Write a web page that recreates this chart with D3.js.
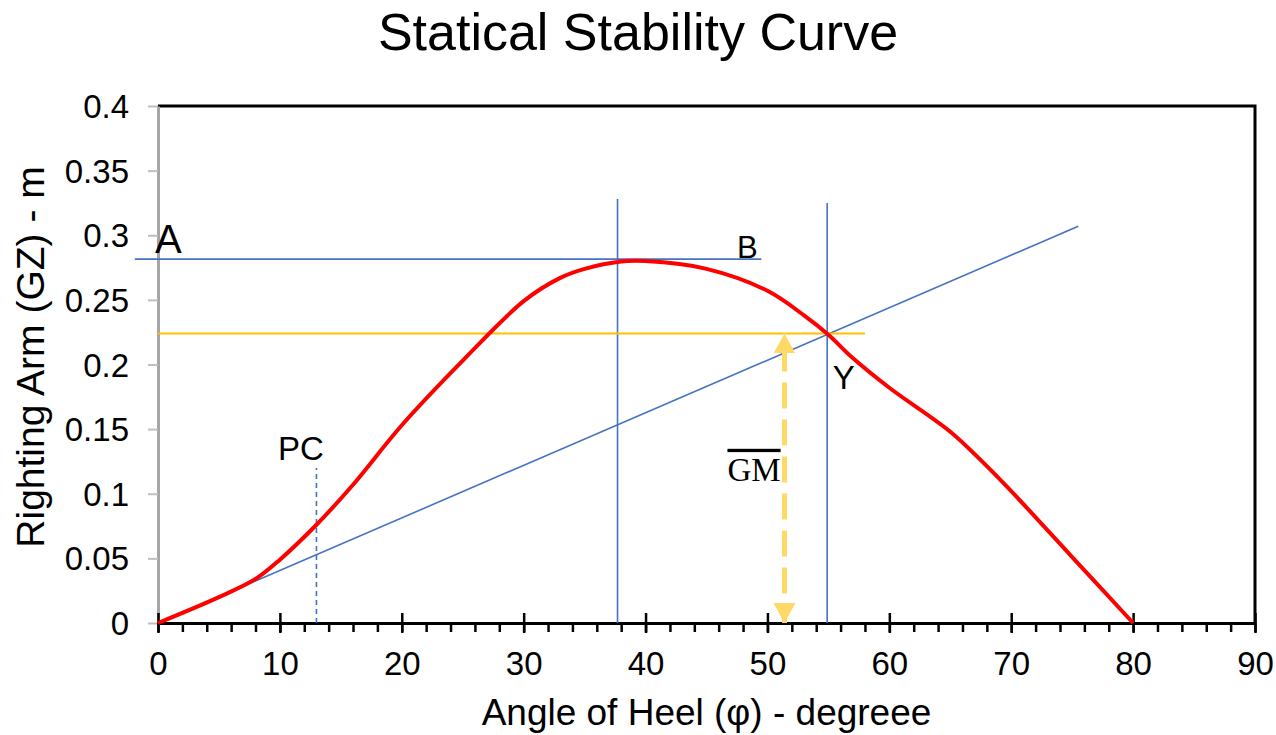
<!DOCTYPE html>
<html>
<head>
<meta charset="utf-8">
<script src="https://cdnjs.cloudflare.com/ajax/libs/d3/7.8.5/d3.min.js"></script>
<style>
  body { margin: 0; background: #fff; }
  svg { display: block; font-family: "Liberation Sans", Arial, sans-serif; }
</style>
</head>
<body>
<div></div>
<script>
// GZ curve
const angles = [0, 5, 8, 10, 13, 16, 20, 25, 30, 33, 35, 38, 40, 45, 50, 53, 55, 57, 60, 65, 67.5, 70, 75, 80];
const gz = [0, 0.020, 0.034, 0.049, 0.076, 0.107, 0.153, 0.203, 0.249, 0.267, 0.274, 0.2797, 0.280, 0.274, 0.257, 0.238, 0.223, 0.205, 0.182, 0.148, 0.126, 0.102, 0.051, 0];

const xTicks = [0, 10, 20, 30, 40, 50, 60, 70, 80, 90];
const xMinor = d3.range(0, 91, 2);
const yTicks = [0, 0.05, 0.1, 0.15, 0.2, 0.25, 0.3, 0.35, 0.4];

// construction lines
const tangentLine = [[0, 0], [75.5, 0.307]];
const maxLine = [[-1.9, 0.2815], [49.5, 0.2815]];
const maxVert = [[37.7, 0], [37.7, 0.328]];
const yVert = [[54.9, 0], [54.9, 0.325]];
const gmLevel = [[0, 0.224], [58, 0.224]];
const pcLine = [[13, 0], [13, 0.12]];
const gmArrow = [[51.4, 0.224], [51.4, 0]];

const labels = [
  {text: 'A', x: -0.25, y: 0.2866, size: 40, anchor: 'start'},
  {text: 'B', x: 47.5, y: 0.2822, size: 31, anchor: 'start'},
  {text: 'Y', x: 55.35, y: 0.1808, size: 33, anchor: 'start'},
  {text: 'PC', x: 11.73, y: 0.126, size: 33, anchor: 'middle'}
];

const width = 1276, height = 735;
const x = d3.scaleLinear().domain([0, 90]).range([158, 1255]);
const y = d3.scaleLinear().domain([0, 0.4]).range([623, 106]);

const svg = d3.select('body').select('div')
  .append('svg')
  .attr('width', width)
  .attr('height', height);

const defs = svg.append('defs');
defs.append('marker')
  .attr('id', 'head')
  .attr('markerUnits', 'userSpaceOnUse')
  .attr('viewBox', '0 0 20 22')
  .attr('refX', 20).attr('refY', 11)
  .attr('markerWidth', 20).attr('markerHeight', 22)
  .attr('orient', 'auto-start-reverse')
  .append('path')
  .attr('d', 'M0,0 L20,11 L0,22 Z')
  .attr('fill', '#FFD966');

const line = d3.line().x(d => x(d[0])).y(d => y(d[1]));

// frame (top and right)
svg.append('path')
  .attr('d', line([[0, 0.4], [90, 0.4], [90, 0]]))
  .attr('fill', 'none')
  .attr('stroke', '#000')
  .attr('stroke-width', 3);

// y axis
const yAxis = svg.append('g')
  .attr('transform', `translate(${x(0)},0)`)
  .call(d3.axisLeft(y).tickValues(yTicks).tickSize(10).tickSizeOuter(0)
    .tickFormat(d => String(+d.toFixed(2))));
yAxis.select('.domain').attr('stroke', '#a6a6a6').attr('stroke-width', 3);
yAxis.selectAll('.tick line').attr('stroke', '#bfbfbf').attr('stroke-width', 2);
yAxis.selectAll('.tick text')
  .attr('x', -29)
  .attr('dy', '0.35em')
  .style('font-size', '33px')
  .style('font-family', '"Liberation Sans", Arial, sans-serif')
  .attr('fill', '#000');

// x axis, minor then major ticks
const xMinorAxis = svg.append('g')
  .attr('transform', `translate(0,${y(0)})`)
  .call(d3.axisBottom(x).tickValues(xMinor).tickSize(9).tickSizeOuter(0).tickFormat(''));
xMinorAxis.select('.domain').remove();
xMinorAxis.selectAll('.tick line').attr('stroke', '#000').attr('stroke-width', 2.5);

const xAxis = svg.append('g')
  .attr('transform', `translate(0,${y(0)})`)
  .call(d3.axisBottom(x).tickValues(xTicks).tickSize(10).tickSizeOuter(0));
xAxis.select('.domain').attr('stroke', '#000').attr('stroke-width', 3);
xAxis.selectAll('.tick line').attr('y1', -10).attr('y2', 10).attr('stroke', '#000').attr('stroke-width', 2.5);
xAxis.selectAll('.tick text')
  .attr('y', 29)
  .style('font-size', '33px')
  .style('font-family', '"Liberation Sans", Arial, sans-serif')
  .attr('fill', '#000');

// construction lines
const blue = '#4472C4';
[tangentLine, maxLine, maxVert, yVert].forEach(l => {
  svg.append('path')
    .attr('d', line(l))
    .attr('fill', 'none')
    .attr('stroke', blue)
    .attr('stroke-width', 1.6);
});

svg.append('path')
  .attr('d', line(pcLine))
  .attr('fill', 'none')
  .attr('stroke', blue)
  .attr('stroke-width', 1.6)
  .attr('stroke-dasharray', '5,4');

svg.append('path')
  .attr('d', line(gmLevel))
  .attr('fill', 'none')
  .attr('stroke', '#FFC000')
  .attr('stroke-width', 2.2);

// GZ curve
svg.append('path')
  .datum(angles.map((a, i) => [a, gz[i]]))
  .attr('d', d3.line().x(d => x(d[0])).y(d => y(d[1])).curve(d3.curveCatmullRom.alpha(0.5)))
  .attr('fill', 'none')
  .attr('stroke', '#FF0000')
  .attr('stroke-width', 4);

// GM arrow
svg.append('path')
  .attr('d', line(gmArrow))
  .attr('fill', 'none')
  .attr('stroke', '#FFD966')
  .attr('stroke-width', 5)
  .attr('stroke-dasharray', '26,11')
  .attr('stroke-dashoffset', -12)
  .attr('marker-start', 'url(#head)')
  .attr('marker-end', 'url(#head)');

// labels
svg.selectAll('.lbl')
  .data(labels)
  .enter()
  .append('text')
  .attr('class', 'lbl')
  .attr('x', d => x(d.x))
  .attr('y', d => y(d.y))
  .attr('text-anchor', d => d.anchor)
  .style('font-size', d => d.size + 'px')
  .text(d => d.text);

svg.append('text')
  .attr('x', x(48.9))
  .attr('y', y(0.110))
  .attr('text-anchor', 'middle')
  .style('font-family', '"Liberation Serif", "DejaVu Serif", serif')
  .style('font-size', '33px')
  .style('text-decoration', 'overline')
  .text('GM');

// titles
svg.append('text')
  .attr('x', width / 2)
  .attr('y', 50)
  .attr('text-anchor', 'middle')
  .style('font-size', '52px')
  .text('Statical Stability Curve');

svg.append('text')
  .attr('x', (x(0) + x(90)) / 2)
  .attr('y', 725)
  .attr('text-anchor', 'middle')
  .style('font-size', '37px')
  .text('Angle of Heel (φ) - degreee');

svg.append('text')
  .attr('transform', `translate(44,357) rotate(-90)`)
  .attr('text-anchor', 'middle')
  .style('font-size', '39px')
  .text('Righting Arm (GZ) - m');
</script>
</body>
</html>
